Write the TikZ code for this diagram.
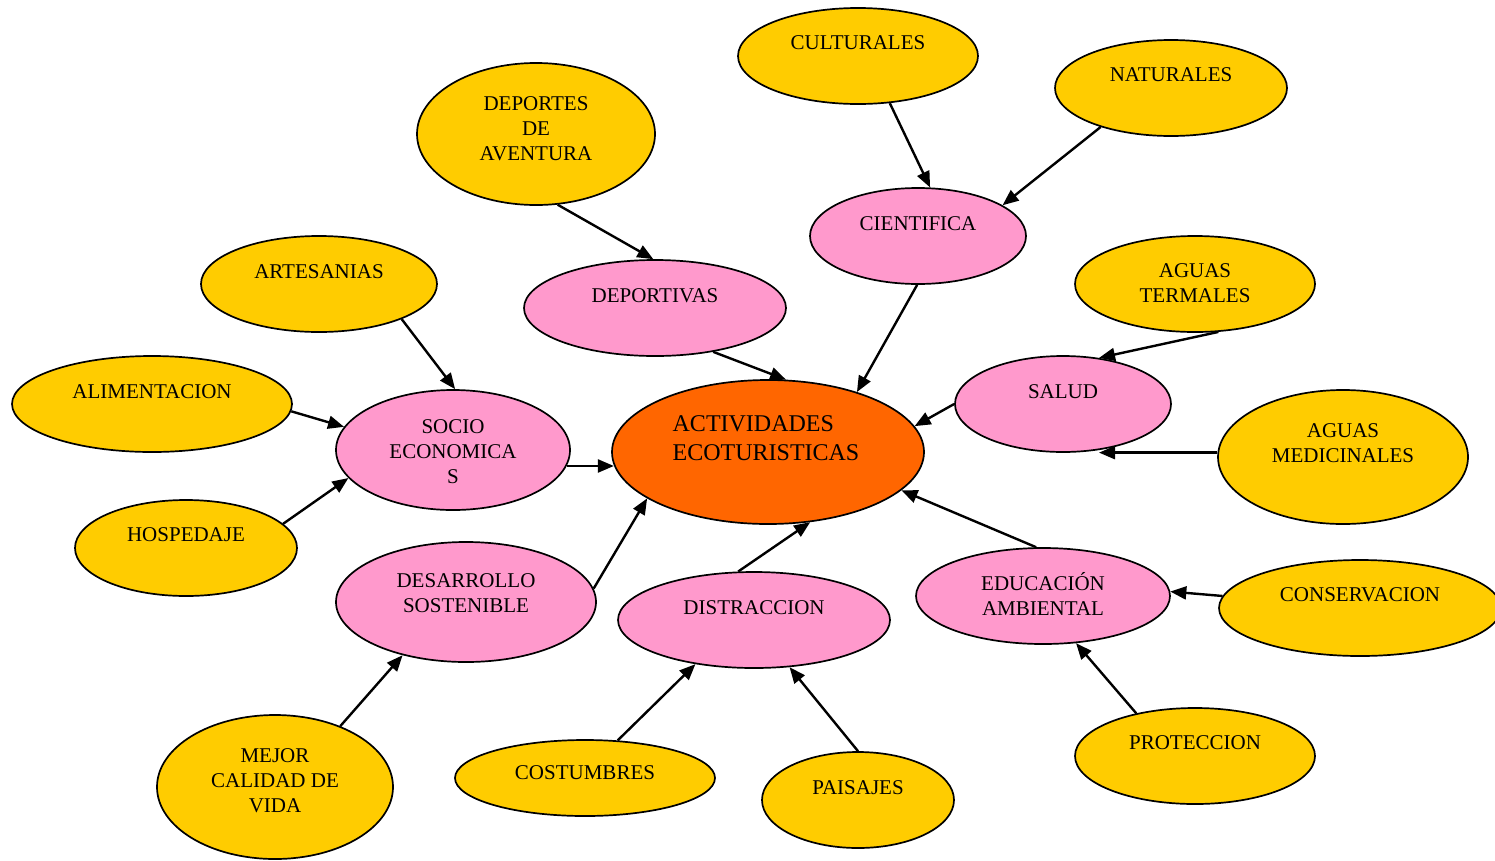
\documentclass[tikz,border=0pt]{standalone}
\usepackage{fontspec}
\setmainfont{Liberation Serif}
\usetikzlibrary{shapes.geometric, arrows.meta}
\definecolor{colorCore}{HTML}{FF6600}
\definecolor{colorSub}{HTML}{FF99CC}
\definecolor{colorLeaf}{HTML}{FFCC00}
\tikzset{
  concept/.style={ellipse, draw=black, line width=1.7pt, inner sep=0pt},
  core/.style={concept, fill=colorCore},
  sub/.style={concept, fill=colorSub},
  leaf/.style={concept, fill=colorLeaf},
  lbl/.style={align=center, inner sep=0pt, font=\fontsize{21}{25}\selectfont},
  link/.style={-{Triangle[length=16pt,width=13pt]}, line width=2.4pt}
}

\begin{document}
\begin{tikzpicture}[x=1pt, y=-1pt]
\useasboundingbox (0,0) rectangle (1495,860);
% centre
\node[core, minimum width=312, minimum height=144, label={[lbl, align=left, font=\fontsize{24}{29}\selectfont, xshift=-2, yshift=14]center:ACTIVIDADES\\ECOTURISTICAS}] (acti) at (768,452) {};
% pink ring
\node[sub, minimum width=234, minimum height=120, label={[lbl, yshift=-2]center:SOCIO\\ECONOMICA\\S}] (soci) at (453,450) {};
\node[sub, minimum width=262, minimum height=96, label={[lbl, yshift=12]center:DEPORTIVAS}] (depo) at (655,308) {};
\node[sub, minimum width=216, minimum height=96, label={[lbl, yshift=12]center:CIENTIFICA}] (cien) at (918,236) {};
\node[sub, minimum width=216, minimum height=96, label={[lbl, yshift=12]center:SALUD}] (salu) at (1063,404) {};
\node[sub, minimum width=254, minimum height=96, label={[lbl, yshift=2]center:EDUCACIÓN\\AMBIENTAL}] (educ) at (1043,596) {};
\node[sub, minimum width=272, minimum height=96, label={[lbl, yshift=12]center:DISTRACCION}] (dist) at (754,620) {};
\node[sub, minimum width=260, minimum height=120, label={[lbl, yshift=9]center:DESARROLLO\\SOSTENIBLE}] (desa) at (466,602) {};
% yellow ring
\node[leaf, minimum width=238, minimum height=142, label={[lbl, yshift=5]center:DEPORTES\\DE\\AVENTURA}] (avent) at (536,134) {};
\node[leaf, minimum width=240, minimum height=96, label={[lbl, yshift=13]center:CULTURALES}] (cult) at (858,56) {};
\node[leaf, minimum width=232, minimum height=96, label={[lbl, yshift=13]center:NATURALES}] (natu) at (1171,88) {};
\node[leaf, minimum width=236, minimum height=96, label={[lbl, yshift=12]center:ARTESANIAS}] (arte) at (319,284) {};
\node[leaf, minimum width=280, minimum height=96, label={[lbl, yshift=12]center:ALIMENTACION}] (alim) at (152,404) {};
\node[leaf, minimum width=222, minimum height=96, label={[lbl, yshift=13]center:HOSPEDAJE}] (hosp) at (186,548) {};
\node[leaf, minimum width=240, minimum height=96, label={[lbl, yshift=1]center:AGUAS\\TERMALES}] (term) at (1195,284) {};
\node[leaf, minimum width=250, minimum height=134, label={[lbl, yshift=14]center:AGUAS\\MEDICINALES}] (medi) at (1343,457) {};
\node[leaf, minimum width=282, minimum height=96, label={[lbl, yshift=13]center:CONSERVACION}] (cons) at (1360,608) {};
\node[leaf, minimum width=240, minimum height=96, label={[lbl, yshift=13]center:PROTECCION}] (prot) at (1195,756) {};
\node[leaf, minimum width=236, minimum height=144, label={[lbl, yshift=6]center:MEJOR\\CALIDAD DE\\VIDA}] (vida) at (275,787) {};
\node[leaf, minimum width=260, minimum height=76, label={[lbl, yshift=5]center:COSTUMBRES}] (cost) at (585,778) {};
\node[leaf, minimum width=192, minimum height=96, label={[lbl, yshift=12]center:PAISAJES}] (pais) at (858,800) {};
% links
\draw[link] (avent.-73) -- (depo.92);
\draw[link] (cult.-56) -- (cien.76);
\draw[link] (natu.-151) -- (cien.20);
\draw[link] (cien.-91) -- (acti.34);
\draw[link] (depo.-37) -- (acti.76);
\draw[link] (arte.-23) -- (soci.88);
\draw[link] (alim.-3) -- (soci.168);
\draw[link] (hosp.14) -- (soci.-165);
\draw[link] (soci.-8) -- (soci.-8 -| acti.-175);
\draw[link] (term.-64) -- (salu.52);
\draw[link] (salu.west) -- (acti.10);
\draw[link] (medi.178) -- (medi.178 -| salu.-52);
\draw[link] (educ.98) -- (acti.-16);
\draw[link] (cons.175) -- (educ.2);
\draw[link] (prot.144) -- (educ.-55);
\draw[link] (dist.108) -- (acti.-59);
\draw[link] (cost.49) -- (dist.-143);
\draw[link] (pais.north) -- (dist.-53);
\draw[link] (desa.6) -- (acti.-159);
\draw[link] (vida.43) -- (desa.-140);
\end{tikzpicture}
\end{document}
